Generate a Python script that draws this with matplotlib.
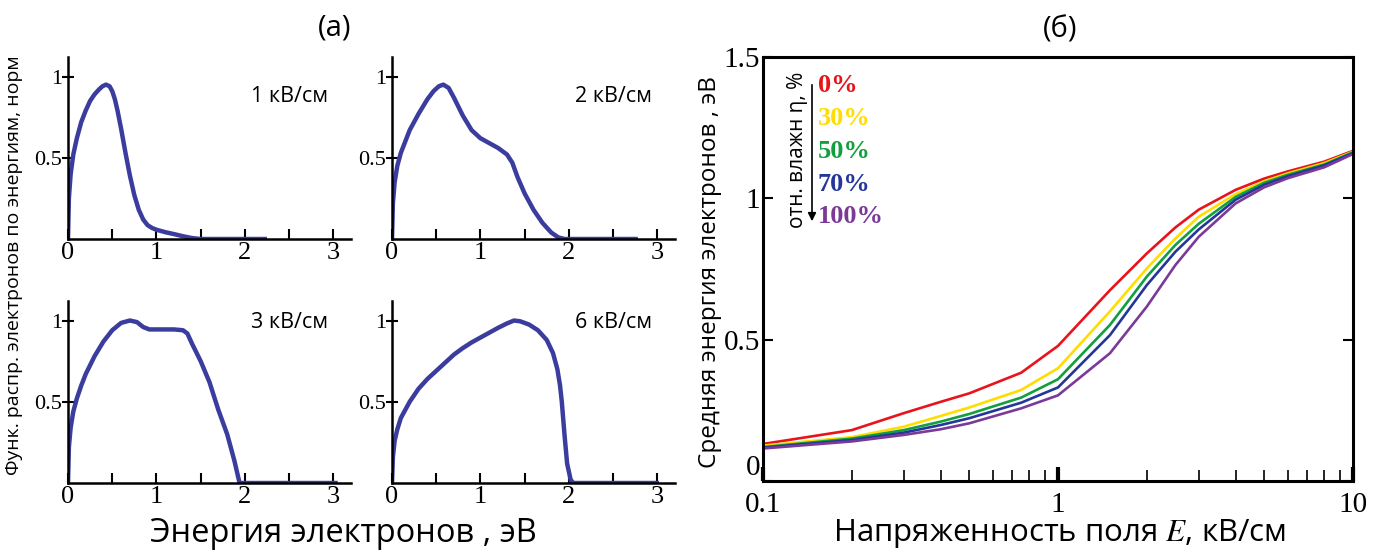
import matplotlib
matplotlib.use("Agg")
import matplotlib.pyplot as plt
from matplotlib.ticker import FixedLocator, NullFormatter

plt.rcParams['mathtext.fontset'] = 'stix'

# (a) energy distribution functions, normalised
fields_a = ['1 кВ/см', '2 кВ/см', '3 кВ/см', '6 кВ/см']
e1_x = [0, 0.01, 0.03, 0.06, 0.1, 0.15, 0.2, 0.25, 0.3, 0.35, 0.39, 0.43, 0.47, 0.5, 0.53, 0.56,
        0.6, 0.65, 0.7, 0.75, 0.8, 0.85, 0.9, 0.95, 1.0, 1.1, 1.2, 1.3, 1.4, 1.5, 2.25]
e1_y = [0, 0.25, 0.4, 0.52, 0.62, 0.72, 0.79, 0.85, 0.89, 0.92, 0.94, 0.95, 0.94, 0.91, 0.86, 0.79,
        0.68, 0.53, 0.39, 0.27, 0.18, 0.12, 0.085, 0.068, 0.057, 0.042, 0.03, 0.017, 0.006, 0, 0]
e2_x = [0, 0.01, 0.03, 0.06, 0.1, 0.15, 0.2, 0.3, 0.4, 0.47, 0.53, 0.58, 0.64, 0.7, 0.8, 0.9, 1.0,
        1.1, 1.2, 1.3, 1.36, 1.42, 1.5, 1.6, 1.7, 1.8, 1.88, 1.95, 2.78]
e2_y = [0, 0.22, 0.35, 0.45, 0.53, 0.6, 0.67, 0.77, 0.86, 0.91, 0.94, 0.95, 0.93, 0.87, 0.76, 0.67, 0.62,
        0.59, 0.56, 0.52, 0.47, 0.38, 0.28, 0.18, 0.1, 0.04, 0.01, 0, 0]
e3_x = [0, 0.01, 0.03, 0.06, 0.1, 0.15, 0.2, 0.3, 0.4, 0.5, 0.6, 0.7, 0.78, 0.85, 0.92, 1.0,
        1.1, 1.2, 1.3, 1.35, 1.4, 1.5, 1.6, 1.7, 1.8, 1.88, 1.94, 3.05]
e3_y = [0, 0.22, 0.34, 0.44, 0.52, 0.6, 0.67, 0.78, 0.87, 0.94, 0.985, 1.0, 0.99, 0.96, 0.945, 0.945,
        0.945, 0.945, 0.94, 0.92, 0.86, 0.75, 0.62, 0.45, 0.3, 0.14, 0, 0]
e6_x = [0, 0.01, 0.03, 0.06, 0.1, 0.2, 0.3, 0.4, 0.5, 0.6, 0.7, 0.8, 0.9, 1.0, 1.1, 1.2, 1.3,
        1.38, 1.45, 1.55, 1.65, 1.75, 1.82, 1.87, 1.9, 1.92, 1.95, 1.98, 2.02, 2.05, 3.02]
e6_y = [0, 0.16, 0.26, 0.33, 0.4, 0.5, 0.58, 0.64, 0.69, 0.74, 0.79, 0.83, 0.865, 0.895, 0.925,
        0.955, 0.982, 1.0, 0.995, 0.975, 0.94, 0.88, 0.8, 0.7, 0.6, 0.5, 0.3, 0.12, 0.02, 0, 0]

# (б) mean electron energy vs field, for several humidities
field_E = [0.1, 0.2, 0.3, 0.4, 0.5, 0.75, 1, 1.5, 2, 2.5, 3, 4, 5, 6, 8, 10]
hum_labels = ['0%', '30%', '50%', '70%', '100%']
hum_colors = ['#e8141c', '#ffdd00', '#11a03c', '#24369a', '#7b3a98']
mean_0 = [.131, .18, .24, .28, .31, .383, .478, .675, .805, .897, .96, 1.03, 1.07, 1.095, 1.13, 1.168]
mean_30 = [.125, .155, .192, .23, .26, .322, .399, .60, .752, .858, .935, 1.015, 1.06, 1.088, 1.125, 1.165]
mean_50 = [.12, .15, .18, .21, .237, .295, .36, .552, .723, .835, .91, 1.005, 1.055, 1.083, 1.12, 1.163]
mean_70 = [.118, .145, .171, .198, .222, .277, .331, .516, .693, .811, .89, .995, 1.048, 1.078, 1.117, 1.16]
mean_100 = [.115, .14, .163, .183, .204, .257, .303, .452, .617, .764, .864, .982, 1.039, 1.071, 1.11, 1.157]

serif = 'Liberation Serif'
sans = 'Open Sans'
line_col = '#3b3d9e'

fig = plt.figure(figsize=(13.85, 5.54), dpi=100)

W, H = 1385, 554
def px_axes(left, right, top, bottom):
    return fig.add_axes([left / W, 1 - bottom / H, (right - left) / W, (bottom - top) / H])

curves = [(e1_x, e1_y), (e2_x, e2_y), (e3_x, e3_y), (e6_x, e6_y)]
boxes = [(68, 351, 57, 239), (392, 675, 57, 239), (68, 351, 301, 483), (392, 675, 301, 483)]
for (cx, cy), box, lab in zip(curves, boxes, fields_a):
    ax = px_axes(*box)
    ax.plot(cx, cy, color=line_col, lw=3.2, solid_capstyle='butt', solid_joinstyle='round')
    ax.set_xlim(0, 3.2)
    ax.set_ylim(0, 1.12)
    for s in ['top', 'right']:
        ax.spines[s].set_visible(False)
    for s in ['left', 'bottom']:
        ax.spines[s].set_linewidth(1.8)
    ax.set_xticks([0, 0.5, 1, 1.5, 2, 2.5, 3])
    ax.set_xticklabels(['0', '', '1', '', '2', '', '3'])
    ax.set_yticks([0.5, 1])
    ax.set_yticklabels(['0.5', '1'])
    ax.tick_params(axis='x', direction='in', length=7, width=1.5, pad=2, labelsize=19)
    ax.tick_params(axis='y', direction='inout', length=9, width=1.5, pad=0, labelsize=16)
    for t in ax.get_xticklabels() + ax.get_yticklabels():
        t.set_fontfamily(serif)
    ax.text(2.94, 0.88 if box[2] == 57 else 0.99, lab, ha='right', va='center',
            fontsize=15.5, family=sans)

fig.text(335 / W, 1 - 28 / H, '(a)', ha='center', va='center', fontsize=21, family=sans)
fig.text(343 / W, 1 - 533 / H, 'Энергия электронов , эВ', ha='center', va='center',
         fontsize=23.5, family=sans)
fig.text(14 / W, 1 - 265 / H, 'Функ. распр. электронов по энергиям, норм', rotation=90,
         ha='center', va='center', fontsize=14, family=sans)

# panel (б)
axb = px_axes(763, 1353, 57, 481)
series = [mean_0, mean_30, mean_50, mean_70, mean_100]
for vals, c in zip(series, hum_colors):
    axb.plot(field_E, vals, color=c, lw=1.9)
axb.set_xscale('log')
axb.set_xlim(0.1, 10)
axb.set_ylim(0, 1.5)
for s in axb.spines.values():
    s.set_linewidth(2.2)
axb.xaxis.set_major_locator(FixedLocator([0.1, 1, 10]))
axb.xaxis.set_minor_locator(FixedLocator([0.2, 0.3, 0.4, 0.5, 0.6, 0.7, 0.8, 0.9,
                                          2, 3, 4, 5, 6, 7, 8, 9]))
axb.xaxis.set_minor_formatter(NullFormatter())
axb.set_xticklabels(['0.1', '1', '10'])
axb.set_yticks([0, 0.5, 1, 1.5])
axb.set_yticklabels(['0', '0.5', '1', '1.5'])
axb.tick_params(axis='x', which='major', direction='in', length=10, width=3, pad=8, labelsize=21)
axb.tick_params(axis='x', which='minor', direction='in', length=8, width=1.2)
axb.tick_params(axis='y', direction='in', length=7, width=1.5, pad=2, labelsize=21, right=True)
for t in axb.get_xticklabels() + axb.get_yticklabels():
    t.set_fontfamily(serif)
axb.get_yticklabels()[0].set_va('bottom')

fig.text(1060 / W, 1 - 30 / H, '(б)', ha='center', va='center', fontsize=21, family=sans)
fig.text(1060 / W, 1 - 533 / H, 'Напряженность поля $E$, кВ/см', ha='center', va='center',
         fontsize=22.5, family=sans)
fig.text(710 / W, 1 - 272 / H, 'Средняя энергия электронов , эВ', rotation=90,
         ha='center', va='center', fontsize=17.5, family=sans)

fig.text(798 / W, 1 - 150 / H, 'отн. влажн η, %', rotation=90, ha='center', va='center',
         fontsize=15, family=sans)
axb.annotate('', xy=(812 / W, 1 - 224 / H), xytext=(812 / W, 1 - 82 / H),
             xycoords='figure fraction', textcoords='figure fraction',
             arrowprops=dict(arrowstyle='-|>', color='black', lw=1.2, mutation_scale=12))
for i, (lab, c) in enumerate(zip(hum_labels, hum_colors)):
    fig.text(818 / W, 1 - (86 + i * 32.7) / H, lab, color=c, ha='left', va='center',
             fontsize=19, fontweight='bold', family=serif)

fig.savefig('out.png', dpi=100)
